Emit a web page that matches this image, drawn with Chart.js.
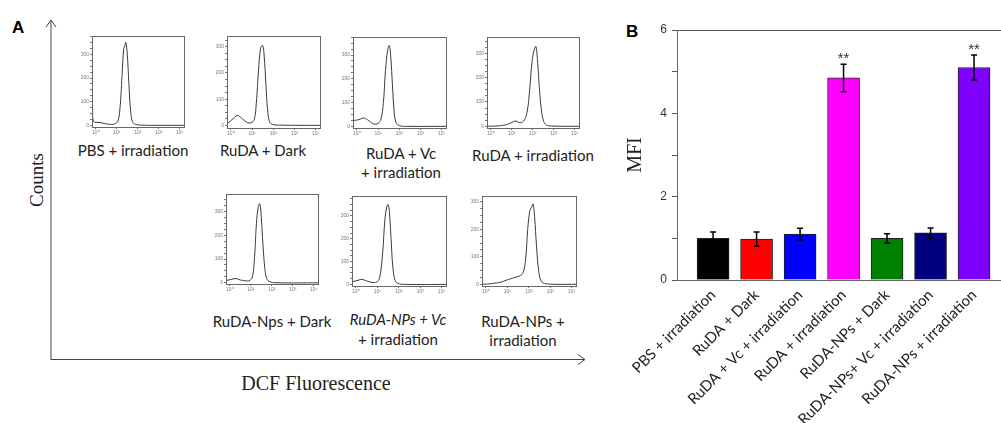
<!DOCTYPE html>
<html>
<head>
<meta charset="utf-8">
<script src="https://cdn.jsdelivr.net/npm/chart.js@4.4.1/dist/chart.umd.min.js"></script>
<style>
body{margin:0;background:#fff;width:1001px;height:423px;position:relative;overflow:hidden;font-family:Lato,'Open Sans',sans-serif}
canvas{position:absolute}
.lbl{position:absolute;transform:translate(-50%,-50%);font-size:15px;color:#222;white-space:nowrap;line-height:1}
.serif{font-family:'Liberation Serif','DejaVu Serif',serif;color:#222}
.panel{position:absolute;font-family:'Liberation Sans',Arial,sans-serif;font-weight:bold;font-size:17px;color:#000}
svg{position:absolute;left:0;top:0}
</style>
</head>
<body>
<div class="panel" style="left:12px;top:18px">A</div>
<div class="panel" style="left:626px;top:22px">B</div>
<svg width="620" height="423">
  <path d="M51 360 V20 M46 27 L51 20 L56 27" stroke="#444" stroke-width="1" fill="none"/>
  <path d="M51 359.5 H585 M578 354.5 L585 359.5 L578 364.5" stroke="#444" stroke-width="1" fill="none"/>
</svg>
<div class="lbl serif" style="left:36px;top:180px;font-size:19px;transform:translate(-50%,-50%) rotate(-90deg)">Counts</div>
<div class="lbl serif" style="left:316px;top:383px;font-size:20px">DCF Fluorescence</div>
<div id="hist"></div>
<canvas id="mfi" width="381" height="423" style="left:620px;top:0"></canvas>
<script>
// ---- panel B data ----
const groupLabels=['PBS + irradiation','RuDA + Dark','RuDA + Vc + irradiation','RuDA + irradiation','RuDA-NPs + Dark','RuDA-NPs+ Vc + irradiation','RuDA-NPs + irradiation'];
const groupPos=[1,2,3,4,5,6,7];
const mfiValues=[1.0,0.98,1.1,4.85,1.0,1.13,5.1];
const mfiErrors=[0.15,0.17,0.14,0.33,0.11,0.12,0.3];
const mfiStars=['','','','**','','','**'];
const barColors=['#000000','#ff0000','#0000ff','#ff00ff','#008000','#000080','#8000ff'];
const mfiTicks=[0,2,4,6];

// ---- panel A histograms: [log10 fluorescence, count] ----
const histPBS=[[-0.15,75],[-0.12,18],[0.2,12],[0.6,5],[0.9,6],[1.05,18],[1.15,70],[1.25,210],[1.33,325],[1.38,335],[1.43,351],[1.5,300],[1.58,170],[1.66,60],[1.75,15],[1.9,4],[2.2,1],[3,0],[4.2,0]];
const histRuDADark=[[-0.15,8],[0.1,25],[0.3,38],[0.5,28],[0.75,12],[0.95,10],[1.1,22],[1.2,85],[1.3,205],[1.4,292],[1.5,305],[1.57,265],[1.65,160],[1.73,60],[1.82,15],[1.95,4],[2.3,1],[4.2,0]];
const histRuDAVc=[[-0.15,25],[0.1,28],[0.3,35],[0.5,28],[0.75,12],[0.95,10],[1.12,25],[1.25,100],[1.35,235],[1.45,320],[1.53,340],[1.6,290],[1.68,170],[1.76,60],[1.85,15],[2.0,3],[2.4,0],[4.2,0]];
const histRuDAIrr=[[-0.15,0],[0.4,2],[0.8,8],[1.05,18],[1.2,22],[1.35,15],[1.55,20],[1.72,55],[1.85,150],[1.97,270],[2.08,318],[2.15,328],[2.22,275],[2.32,150],[2.42,60],[2.52,20],[2.65,5],[2.9,1],[4.2,0]];
const histNPsDark=[[-0.15,10],[0.1,15],[0.3,18],[0.5,12],[0.8,8],[0.95,10],[1.08,25],[1.18,110],[1.27,250],[1.35,315],[1.43,332],[1.5,275],[1.58,160],[1.67,60],[1.76,18],[1.92,4],[2.3,0],[4.2,0]];
const histNPsVc=[[-0.15,12],[0.1,18],[0.3,22],[0.5,15],[0.8,8],[1.0,12],[1.12,35],[1.25,140],[1.35,280],[1.43,335],[1.5,350],[1.56,320],[1.64,200],[1.72,80],[1.82,20],[1.95,5],[2.3,0],[4.2,0]];
const histNPsIrr=[[-0.15,0],[0.3,3],[0.7,8],[0.95,15],[1.15,20],[1.35,25],[1.55,30],[1.72,40],[1.85,90],[1.95,200],[2.05,268],[2.13,280],[2.2,292],[2.27,245],[2.36,140],[2.46,50],[2.58,12],[2.8,2],[4.2,0]];
const histXTicks=['10\u2070','10\u00b9','10\u00b2','10\u00b3','10\u2074'];
const histYTicks=[0,100,200,300];

// layout of the seven small panels: box left, top, width, height, y range, title lines
const histPanels=[
  {data:histPBS,box:[92,34,92,93],y:[-7,378],title:['PBS + irradiation'],tx:133,ty:[150]},
  {data:histRuDADark,box:[227,34,93,94],y:[-10,341],title:['RuDA + Dark'],tx:263,ty:[150]},
  {data:histRuDAVc,box:[353,35,93,93],y:[-7,376],title:['RuDA + Vc','+ irradiation'],tx:401,ty:[153,172]},
  {data:histRuDAIrr,box:[487,35,92,93],y:[-7,367],title:['RuDA + irradiation'],tx:533,ty:[155]},
  {data:histNPsDark,box:[226,192,92,92],y:[-5,373],title:['RuDA-Nps + Dark'],tx:272,ty:[321]},
  {data:histNPsVc,box:[352,194,94,92],y:[-7,387],title:['RuDA-NPs + Vc','+ irradiation'],tx:398,ty:[319,339],italic:true},
  {data:histNPsIrr,box:[482,194,94,92],y:[-6,321],title:['RuDA-NPs +','irradiation'],tx:523,ty:[321,340]}
];

const frame={id:'frame',afterDraw(c){const a=c.chartArea,x=c.ctx;x.save();x.strokeStyle='#666';x.lineWidth=1;x.strokeRect(Math.round(a.left)+0.5,Math.round(a.top)+0.5,Math.round(a.right-a.left),Math.round(a.bottom-a.top));x.restore();}};

const wrap=document.getElementById('hist');
histPanels.forEach((p,i)=>{
  const [bl,bt,bw,bh]=p.box;
  const cv=document.createElement('canvas');
  cv.width=bw+16+4;cv.height=bh+2+12;
  cv.style.left=(bl-16)+'px';cv.style.top=(bt-2)+'px';
  wrap.appendChild(cv);
  new Chart(cv.getContext('2d'),{
    type:'line',
    data:{datasets:[{data:p.data.map(([x,y])=>({x,y})),borderColor:'#3a3a3a',borderWidth:1,pointRadius:0,tension:0.4,fill:false}]},
    options:{responsive:false,animation:false,devicePixelRatio:1,
      layout:{padding:{top:2,right:4,left:0,bottom:0}},
      plugins:{legend:{display:false},tooltip:{enabled:false}},
      scales:{
        x:{type:'linear',min:-0.18,max:4.2,
          afterBuildTicks:s=>{s.ticks=histXTicks.map((_,k)=>({value:k}));},
          afterFit:s=>{s.height=12;},
          grid:{display:true,color:'transparent',tickColor:'#777',tickLength:2,drawTicks:true},
          border:{display:false},
          ticks:{autoSkip:false,maxRotation:0,padding:1,font:{size:5},color:'#777',callback:v=>histXTicks[v]}},
        y:{min:p.y[0],max:p.y[1],
          afterBuildTicks:s=>{const t=[];for(let v=0;v<=p.y[1];v+=25)t.push({value:v});s.ticks=t;},
          afterFit:s=>{s.width=16;},
          grid:{display:true,color:'transparent',tickColor:'#777',tickLength:2,drawTicks:true},
          border:{display:false},
          ticks:{autoSkip:false,padding:1,font:{size:5},color:'#777',callback:v=>histYTicks.includes(v)?String(v):''}}
      }},
    plugins:[frame]
  });
  p.title.forEach((t,k)=>{
    const d=document.createElement('div');
    d.className='lbl';d.textContent=t;
    d.style.left=p.tx+'px';d.style.top=p.ty[k]+'px';
    if(p.italic&&k===0)d.style.fontStyle='italic';
    wrap.appendChild(d);
  });
});

// ---- panel B ----
const errBars={id:'errBars',afterDatasetsDraw(c){
  const x=c.ctx,xs=c.scales.x,ys=c.scales.y;
  x.save();x.strokeStyle='#000';x.lineWidth=1.5;x.fillStyle='#333';
  x.font='15px "Liberation Sans", Arial';x.textAlign='center';
  mfiValues.forEach((v,i)=>{
    const px=xs.getPixelForValue(groupPos[i]);
    const top=ys.getPixelForValue(v+mfiErrors[i]),bot=ys.getPixelForValue(v-mfiErrors[i]);
    x.beginPath();x.moveTo(px,top);x.lineTo(px,bot);
    x.moveTo(px-3,top);x.lineTo(px+3,top);x.moveTo(px-3,bot);x.lineTo(px+3,bot);x.stroke();
    if(mfiStars[i])x.fillText(mfiStars[i],px,top-1);
  });
  x.restore();
}};

new Chart(document.getElementById('mfi').getContext('2d'),{
  type:'bar',
  data:{datasets:[{data:groupPos.map((p,i)=>({x:p,y:mfiValues[i]})),backgroundColor:barColors,borderColor:'#222',borderWidth:1,barThickness:32}]},
  options:{responsive:false,animation:false,devicePixelRatio:1,
    layout:{padding:{top:30,right:0,left:0,bottom:0}},
    plugins:{legend:{display:false},tooltip:{enabled:false}},
    scales:{
      x:{type:'linear',min:0.17,max:7.62,offset:false,
        afterBuildTicks:s=>{s.ticks=groupPos.map(v=>({value:v}));},
        afterFit:s=>{s.height=143;},
        grid:{display:true,color:'transparent',drawTicks:false,offset:false},
        border:{display:true,color:'#666',width:1},
        ticks:{autoSkip:false,minRotation:45,maxRotation:45,padding:6,color:'#222',font:{family:'Lato',size:15},callback:v=>groupLabels[v-1]}},
      y:{min:0,max:6,
        afterBuildTicks:s=>{const t=[];for(let v=0;v<=6;v++)t.push({value:v});s.ticks=t;},
        afterFit:s=>{s.width=57;},
        grid:{display:true,color:c=>c.tick&&c.tick.value===6?'#555':'transparent',tickColor:'#555',tickLength:5,drawTicks:true},
        border:{display:true,color:'#666',width:1},
        title:{display:true,text:'MFI',font:{family:'Liberation Serif',size:20},color:'#222',padding:{top:4,bottom:0}},
        ticks:{padding:5,color:'#333',font:{family:'Liberation Sans',size:12},callback:v=>mfiTicks.includes(v)?String(v):''}}
    }},
  plugins:[errBars]
});
</script>
</body>
</html>
